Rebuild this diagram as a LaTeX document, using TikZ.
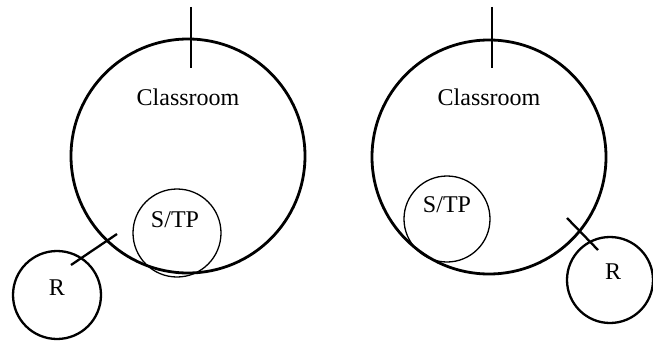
\documentclass[tikz,border=0pt]{standalone}
\usepackage{fontspec}
\setmainfont{Liberation Serif}
\usetikzlibrary{positioning,calc}

\tikzset{
    room/.style={circle,draw,line width=2.8pt,inner sep=0pt,minimum size=234pt},
    stp/.style={circle,draw,line width=1.3pt,inner sep=0pt,minimum size=88pt},
    rcirc/.style={circle,draw,line width=2.3pt,inner sep=0pt,minimum size=88pt},
    lbl/.style={font=\fontsize{24}{28}\selectfont},
    mark line/.style={line width=2.3pt}
}

\begin{document}
\begin{tikzpicture}[x=1pt,y=-1pt]
    \useasboundingbox (0,0) rectangle (653,345);

    % left
    \node[room] (roomL) at (188,156) {};
    \node[lbl] (roomLtext) at (188,97) {Classroom};
    \node[stp] (stpL) at (177,233) {};
    \node[lbl] (stpLtext) at (175,220) {S/TP};
    \node[rcirc] (rL) at (57,295) {};
    \node[lbl] (rLtext) at (57,288) {R};
    \coordinate (tickLa) at (191,7);
    \coordinate (tickLb) at (191,68);
    \coordinate (crossLa) at (71,265);
    \coordinate (crossLb) at (117,234);
    \draw[mark line] (tickLa) -- (tickLb);
    \draw[mark line] (crossLa) -- (crossLb);

    % right
    \node[room] (roomR) at (489,157) {};
    \node[lbl] (roomRtext) at (489,97) {Classroom};
    \node[stp,minimum size=86pt] (stpR) at (447,219) {};
    \node[lbl] (stpRtext) at (447,205) {S/TP};
    \node[rcirc,minimum size=86pt] (rR) at (610,280) {};
    \node[lbl] (rRtext) at (613,272) {R};
    \coordinate (tickRa) at (492,7);
    \coordinate (tickRb) at (492,68);
    \coordinate (crossRa) at (567,218);
    \coordinate (crossRb) at (598,250);
    \draw[mark line] (tickRa) -- (tickRb);
    \draw[mark line] (crossRa) -- (crossRb);
\end{tikzpicture}
\end{document}
